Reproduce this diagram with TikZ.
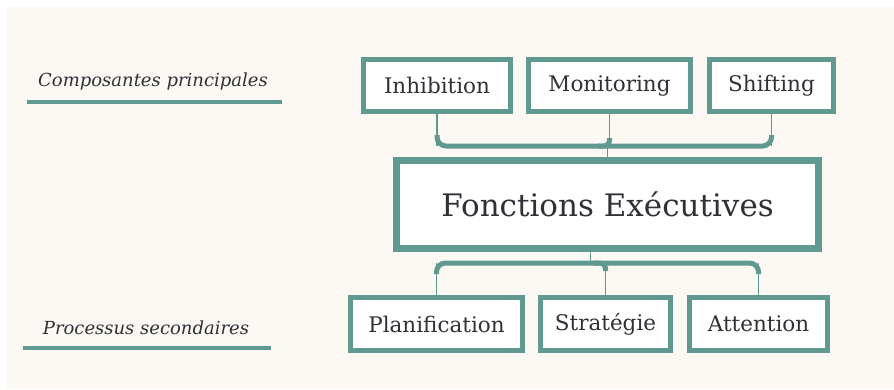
\documentclass[tikz,border=0pt]{standalone}
\usepackage{fontspec}
\setmainfont{DejaVu Serif}
\usetikzlibrary{calc}
\definecolor{fkteal}{HTML}{5F9990}
\definecolor{fktext}{HTML}{2E3136}
\definecolor{fkcream}{HTML}{FCF9F4}
\begin{document}
\begin{tikzpicture}[x=1pt,y=-1pt,
	box/.style={draw=fkteal, line width=5pt, fill=white, text=fktext, inner sep=0pt,
		minimum height=52pt, font=\fontsize{21.5}{24}\selectfont},
	bigbox/.style={box, line width=7pt, minimum width=422pt, minimum height=88pt,
		font=\fontsize{31}{36}\selectfont},
	link/.style={draw=fkteal, line width=1.2pt},
	bar/.style={draw=fkteal, line width=5pt},
	tag/.style={text=fktext, font=\itshape\fontsize{18}{20}\selectfont, inner sep=0pt},
	rule/.style={draw=fkteal, line width=4pt}]
	% page
	\useasboundingbox (0,0) rectangle (894,389);
	\fill[white] (0,0) rectangle (894,389);
	\fill[fkcream] (7,7) rectangle (894,389);
	% side labels
	\node[tag] (comp) at (153,82) {Composantes principales};
	\draw[rule] (27,102) -- (282,102);
	\node[tag] (proc) at (146,328) {Processus secondaires};
	\draw[rule] (23,348) -- (271,348);
	% boxes
	\node[box, minimum width=147pt] (inh) at (437,85.5) {Inhibition};
	\node[box, minimum width=162pt] (mon) at (609.5,85.5) {Monitoring};
	\node[box, minimum width=124pt] (shi) at (771.5,85.5) {Shifting};
	\node[bigbox] (main) at (607.5,204.5) {Fonctions Exécutives};
	\node[box, minimum width=172pt, minimum height=53pt] (pla) at (436.5,324) {Planification};
	\node[box, minimum width=130pt, minimum height=53pt] (str) at (605.5,324) {Stratégie};
	\node[box, minimum width=138pt, minimum height=53pt] (att) at (758.5,324) {Attention};
	% brackets
	\coordinate (topbar) at (0,146);
	\coordinate (botbar) at (0,263);
	\foreach \n in {inh,mon,shi}
		\draw[link] (\n.south) -- (\n.south |- topbar);
	\draw[bar, rounded corners=9pt] ($(inh.south |- topbar)+(0,-11)$) -- (inh.south |- topbar)
		-- (shi.south |- topbar) -- ++(0,-11);
	\draw[bar, rounded corners=6pt] ($(mon.south |- topbar)+(-12,0)$) -- (mon.south |- topbar) -- ++(0,-8);
	\draw[link] (main.north) -- (main.north |- topbar);
	\draw[link] ([xshift=-17pt]main.south) -- ([xshift=-17pt]main.south |- botbar);
	\foreach \n in {pla,str,att}
		\draw[link] (\n.north) -- (\n.north |- botbar);
	\draw[bar, rounded corners=9pt] ($(pla.north |- botbar)+(0,11)$) -- (pla.north |- botbar)
		-- (att.north |- botbar) -- ++(0,11);
	\draw[bar, rounded corners=6pt] ($(str.north |- botbar)+(-12,0)$) -- (str.north |- botbar) -- ++(0,8);
\end{tikzpicture}
\end{document}
